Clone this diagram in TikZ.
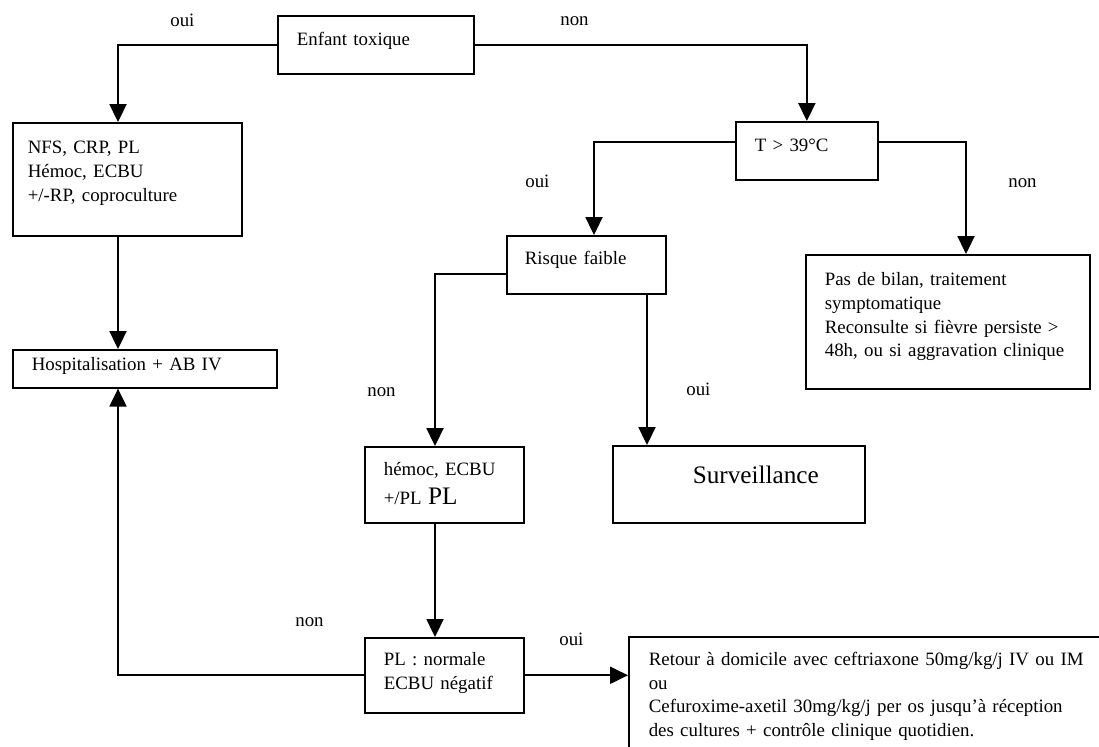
\documentclass[tikz,border=0pt]{standalone}
\usepackage{fontspec}
\setmainfont{Liberation Serif}
\usetikzlibrary{arrows.meta}
\begin{document}
\begin{tikzpicture}[x=0.615pt,y=-0.615pt,
  boite/.style={draw,line width=1pt,anchor=north west,inner ysep=0pt,align=left,font=\fontsize{11.6}{14.5}\selectfont},
  fleche/.style={line width=1pt,-{Triangle[length=11pt,width=10.5pt]}},
  lab/.style={anchor=base west,inner sep=0pt,font=\fontsize{11.6}{14.5}\selectfont}]
\useasboundingbox (0,0) rectangle (1099,747);
\clip (0,0) rectangle (1099,747);
\node[boite,inner xsep=11.7pt,text width=97.2pt,text height=18.5pt,text depth=17.2pt] (enfant) at (277,15) {Enfant toxique};
\node[boite,inner xsep=9.2pt,text width=122.4pt,text height=19.1pt,text depth=50.4pt] (nfs) at (12,122) {NFS, CRP, PL\\Hémoc, ECBU\\+/-RP, coproculture};
\node[boite,inner xsep=11.7pt,text width=139pt,text height=12.9pt,text depth=10.5pt] (hosp) at (12,349) {Hospitalisation + AB IV};
\node[boite,inner xsep=11.7pt,text width=64pt,text height=18.5pt,text depth=17.2pt] (tbox) at (735,121) {T > 39°C};
\node[boite,inner xsep=11.1pt,text width=75.6pt,text height=17.8pt,text depth=17.8pt] (risque) at (506,235) {Risque faible};
\node[boite,inner xsep=11.7pt,text width=151.3pt,text height=19.1pt,text depth=63.3pt] (pas) at (805,254) {Pas de bilan, traitement\\symptomatique\\Reconsulte si fièvre persiste >\\\mbox{48h, ou si aggravation clinique}};
\node[boite,inner xsep=11.7pt,text width=74.4pt,text height=17.8pt,text depth=28.9pt] (hemoc) at (364,446) {hémoc, ECBU\\[3pt]+/PL {\fontsize{15.5}{19}\selectfont PL}};
\node[boite,align=right,inner xsep=28.3pt,text width=98.4pt,text height=23.4pt,text depth=24pt,font=\fontsize{15.5}{19}\selectfont] (surv) at (612,445) {Surveillance};
\node[boite,inner xsep=11.7pt,text width=74.4pt,text height=17.2pt,text depth=28.9pt] (pl) at (364,637) {PL : normale\\ECBU négatif};
\node[boite,inner xsep=12.3pt,text width=276.8pt,text height=17.8pt,text depth=100pt] (retour) at (628,636) {Retour à domicile avec ceftriaxone 50mg/kg/j IV ou IM\\ou\\Cefuroxime-axetil 30mg/kg/j per os jusqu’à réception\\des cultures + contrôle clinique quotidien.};
\coordinate (colA) at (118,0);
\coordinate (colB) at (594,0);
\coordinate (colC) at (966,0);
\coordinate (colD) at (435,0);
\coordinate (colE) at (647,0);
\draw[fleche] (enfant.west) -| (colA |- nfs.north);
\draw[fleche] (enfant.east) -| (tbox.north);
\draw[fleche] ([yshift=5.5pt]tbox.west) -| (colB |- risque.north);
\draw[fleche] ([yshift=5.5pt]tbox.east) -| (colC |- pas.north);
\draw[fleche] ([yshift=-5.5pt]risque.west) -| (colD |- hemoc.north);
\draw[fleche] (colE |- risque.south) -- (colE |- surv.north);
\draw[fleche] (colA |- nfs.south) -- (colA |- hosp.north);
\draw[fleche] (colD |- hemoc.south) -- (colD |- pl.north);
\draw[fleche] (pl.west) -| (colA |- hosp.south);
\draw[fleche] (pl.east) -- (pl.east -| retour.west);
\node[lab] (l1) at (170,27) {oui};
\node[lab] (l2) at (560,26) {non};
\node[lab] (l3) at (525,188) {oui};
\node[lab] (l4) at (1008,188) {non};
\node[lab] (l5) at (367,397) {non};
\node[lab] (l6) at (686,396) {oui};
\node[lab] (l7) at (295,627) {non};
\node[lab] (l8) at (559,645) {oui};
\end{tikzpicture}
\end{document}
